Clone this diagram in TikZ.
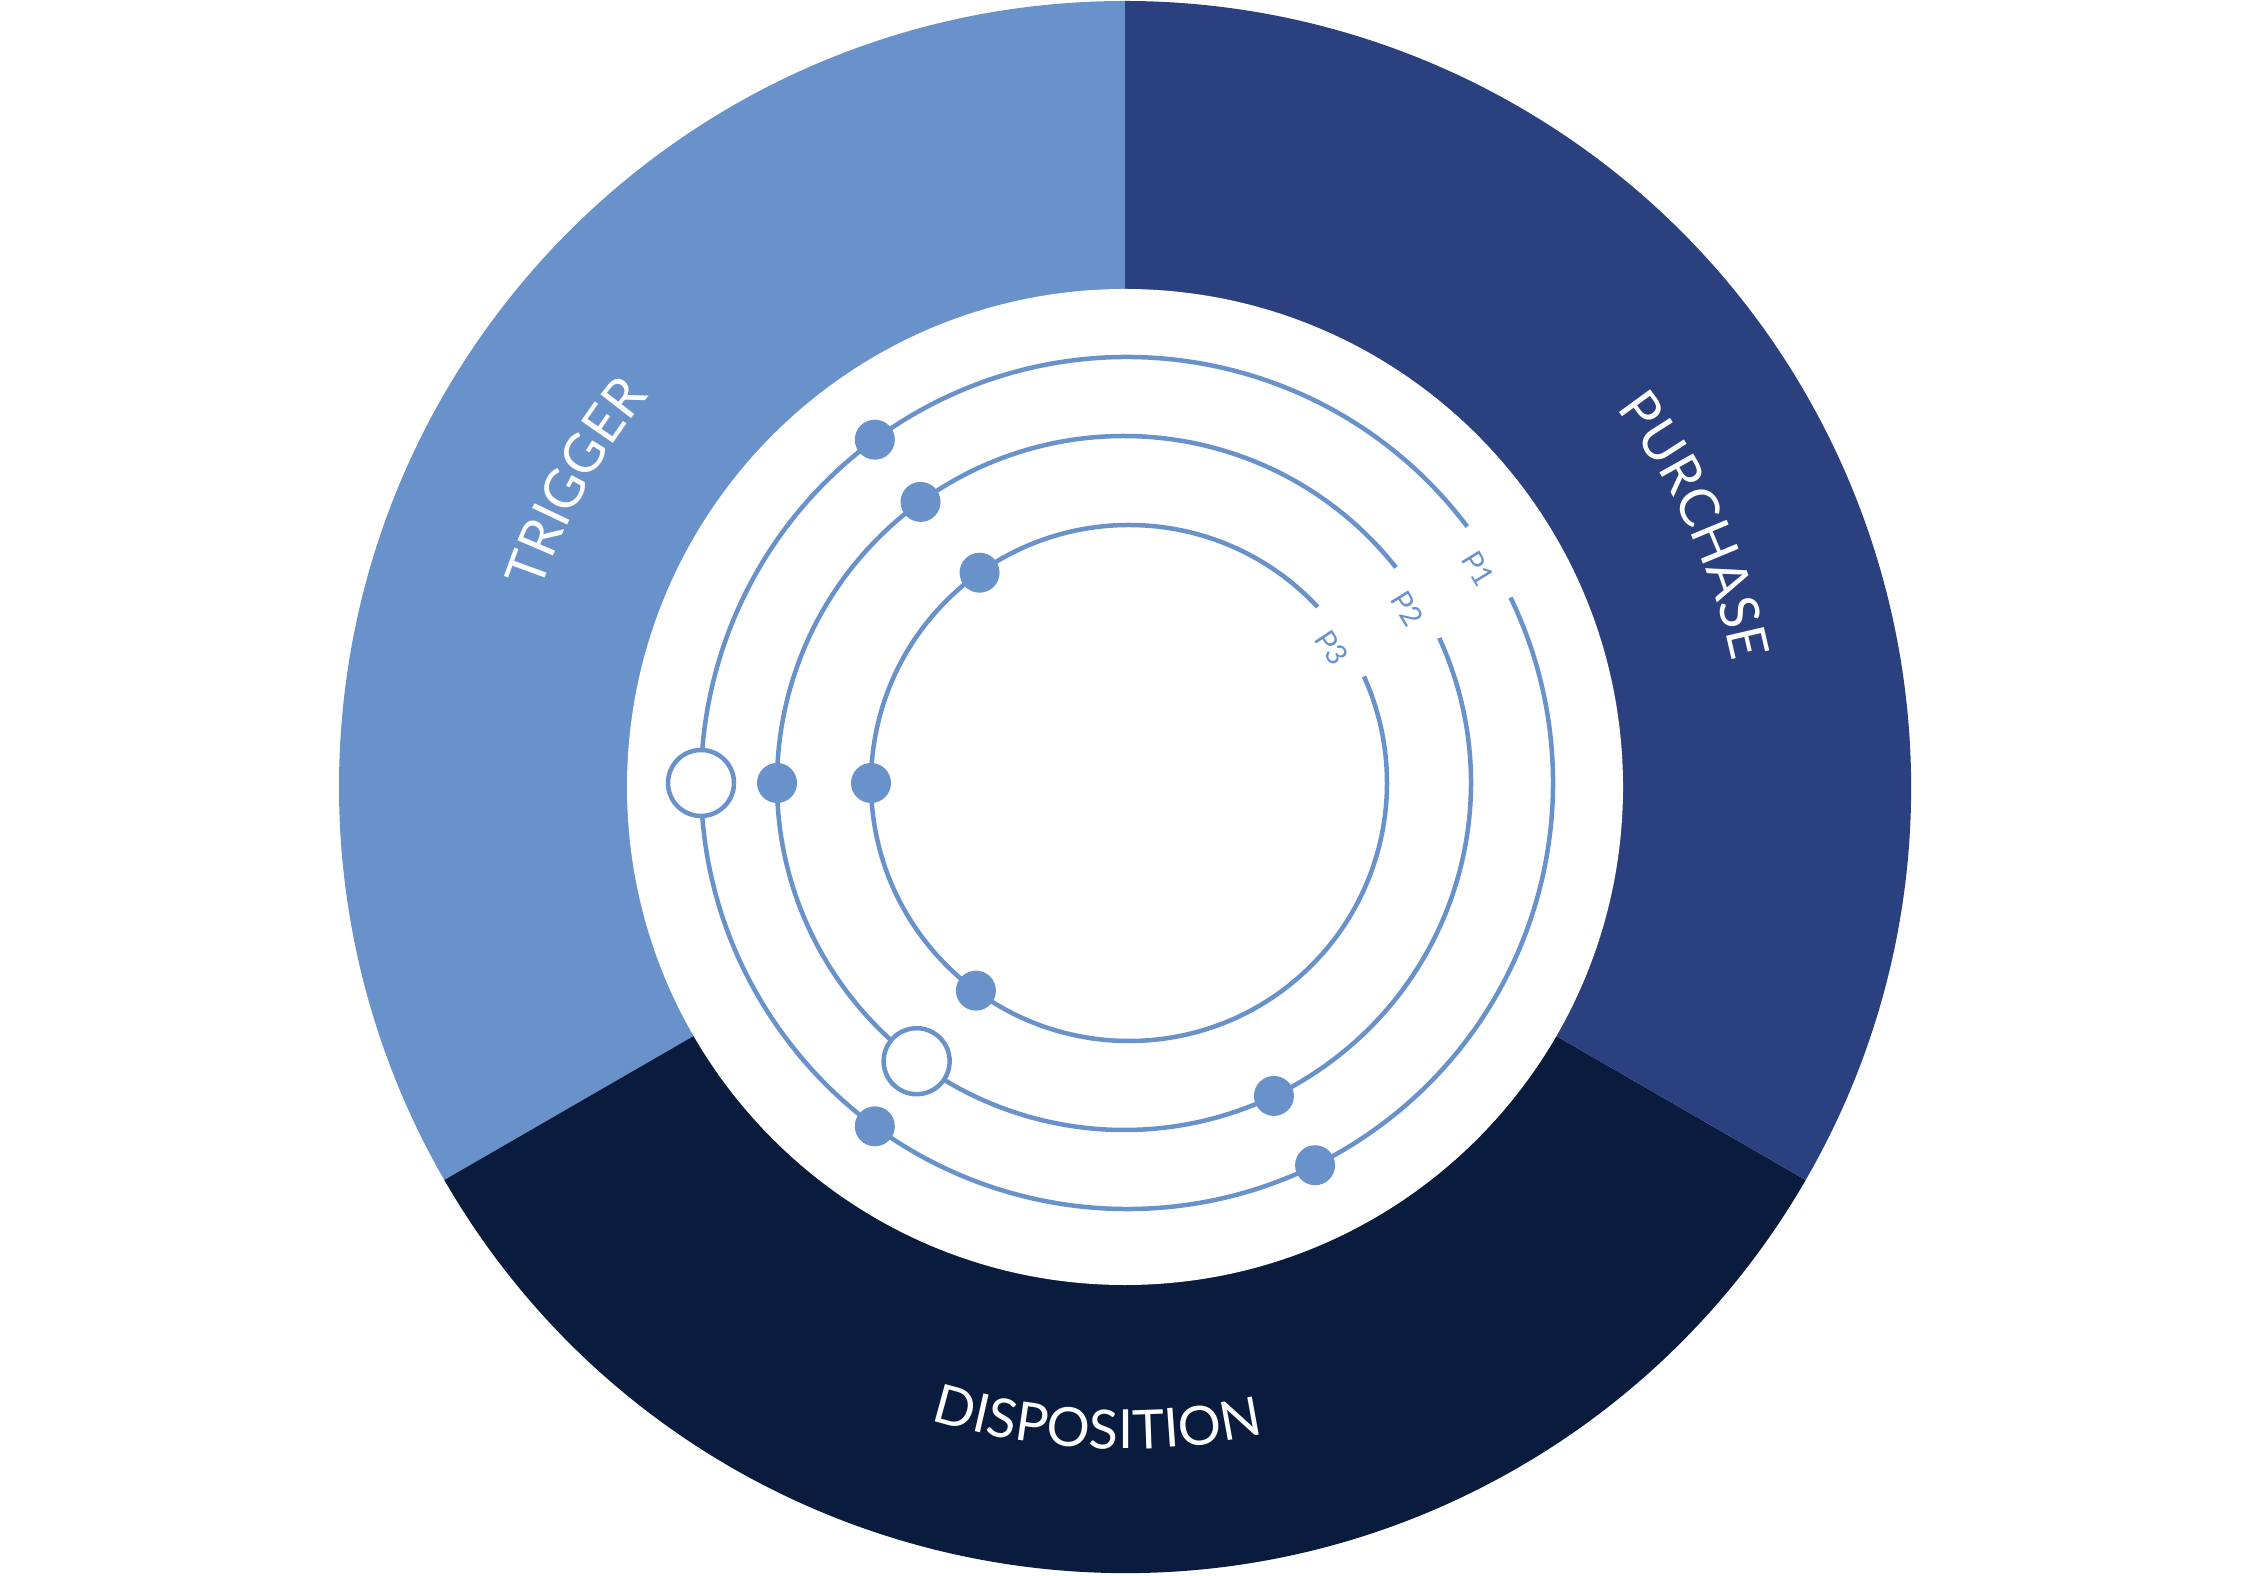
\documentclass[tikz,border=0pt]{standalone}
\usepackage{fontspec}
\setmainfont{Lato}
\usetikzlibrary{decorations.text}
\definecolor{trig}{HTML}{6A92CA}
\definecolor{purch}{HTML}{2B407E}
\definecolor{dispo}{HTML}{0A1C3D}
\newcommand{\bigfont}{\fontsize{54}{60}\selectfont}
\newcommand{\lblfont}{\fontsize{29}{32}\selectfont}
\begin{document}
\begin{tikzpicture}[x=1pt,y=1pt,
  track/.style={draw=trig, line width=4.5pt},
  fdot/.style={circle, fill=trig, inner sep=0pt, minimum size=40pt},
  odot/.style={circle, draw=trig, fill=white, line width=4.5pt, inner sep=0pt, minimum size=66pt},
  plabel/.style={text=trig, font=\lblfont, inner sep=0pt},
  ringtext/.style={decorate, decoration={text along path, text align=center, text={|\color{white}\bigfont|#1}}}
]
\fill[white] (0,0) rectangle (2250,1575);
\useasboundingbox (0,0) rectangle (2250,1575);
\coordinate (R) at (1125,788);
% sectors
\fill[trig] (R) -- ([shift={(90:786)}]R) arc[start angle=90, end angle=210, radius=786] -- cycle;
\fill[dispo] (R) -- ([shift={(210:786)}]R) arc[start angle=210, end angle=330, radius=786] -- cycle;
\fill[purch] (R) -- ([shift={(-30:786)}]R) arc[start angle=-30, end angle=90, radius=786] -- cycle;
\fill[white] (R) circle[radius=498];
% ring texts
\path[ringtext=DISPOSITION] ([shift={(227.5:662)}]R) arc[start angle=227.5, end angle=307.5, radius=662];
\path[ringtext=TRIGGER] ([shift={(191:616)}]R) arc[start angle=191, end angle=111, radius=616];
\path[ringtext=PURCHASE] ([shift={(64.6:620)}]R) arc[start angle=64.6, end angle=-15.4, radius=620];
% tracks
\coordinate (T1) at (1127,792);
\coordinate (T2) at (1124,792);
\coordinate (T3) at (1129,792);
\draw[track] ([shift={(37:426)}]T1) arc[start angle=37, end angle=385.8, radius=426];
\draw[track] ([shift={(38.4:347)}]T2) arc[start angle=38.4, end angle=384.7, radius=347];
\draw[track] ([shift={(43:258)}]T3) arc[start angle=43, end angle=384.4, radius=258];
% labels
\node[plabel, rotate=-58.6] (l1) at ([shift={(31.4:412)}]T1) {P1};
\node[plabel, rotate=-58.4] (l2) at ([shift={(31.6:333)}]T2) {P2};
\node[plabel, rotate=-56.3] (l3) at ([shift={(33.7:244)}]T3) {P3};
% dots P1
\node[fdot] (a1) at ([shift={(126.3:426)}]T1) {};
\node[odot] (a2) at ([shift={(180:426)}]T1) {};
\node[fdot] (a3) at ([shift={(233.7:426)}]T1) {};
\node[fdot] (a4) at ([shift={(296.2:426)}]T1) {};
% dots P2
\node[fdot] (b1) at ([shift={(125.9:347)}]T2) {};
\node[fdot] (b2) at ([shift={(180:347)}]T2) {};
\node[odot] (b3) at ([shift={(233.3:347)}]T2) {};
\node[fdot] (b4) at ([shift={(295.6:347)}]T2) {};
% dots P3
\node[fdot] (c1) at ([shift={(125.4:258)}]T3) {};
\node[fdot] (c2) at ([shift={(180:258)}]T3) {};
\node[fdot] (c3) at ([shift={(233.6:258)}]T3) {};
\end{tikzpicture}
\end{document}
